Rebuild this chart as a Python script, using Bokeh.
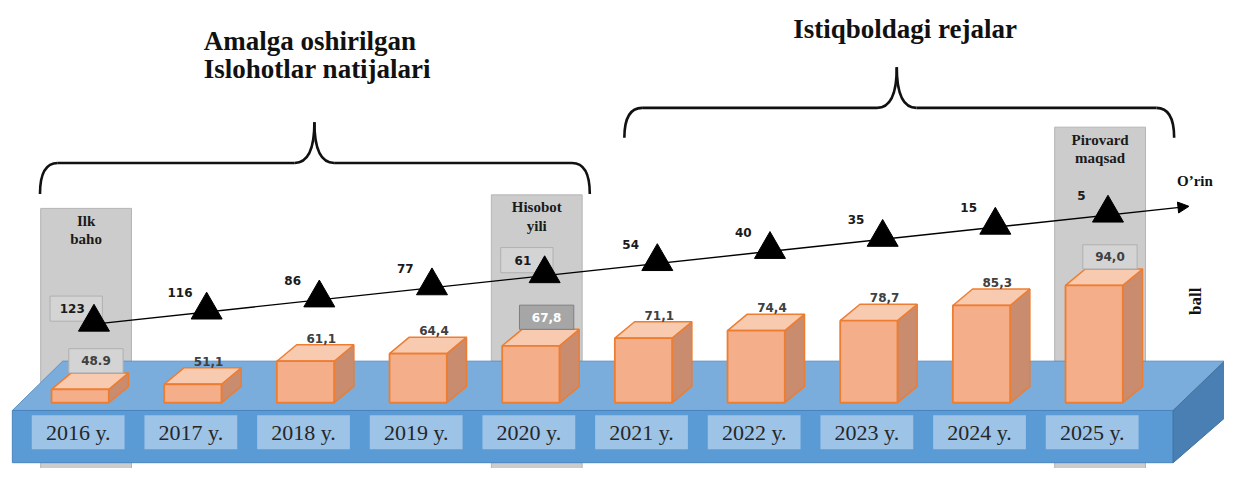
import numpy as np
from bokeh.plotting import figure
from bokeh.models import Range1d, Arrow, NormalHead
from bokeh.embed import file_html
from bokeh.resources import INLINE
from bokeh.core.properties import value

# ---------------- data ----------------
years = ["2016 y.", "2017 y.", "2018 y.", "2019 y.", "2020 y.",
         "2021 y.", "2022 y.", "2023 y.", "2024 y.", "2025 y."]
scores = [48.9, 51.1, 61.1, 64.4, 67.8, 71.1, 74.4, 78.7, 85.3, 94.0]
score_labels = ["48.9", "51,1", "61,1", "64,4", "67,8", "71,1", "74,4", "78,7", "85,3", "94,0"]
ranks = [123, 116, 86, 77, 61, 54, 40, 35, 15, 5]
milestone_idx = [0, 4, 9]
milestone_titles = [["Ilk", "baho"], ["Hisobot", "yili"], ["Pirovard", "maqsad"]]
left_title = ["Amalga oshirilgan", "Islohotlar natijalari"]
right_title = "Istiqboldagi rejalar"
rank_title = "O\u2019rin"
score_title = "ball"

# ---------------- layout helpers (reference pixel -> data) ----------------
PX0, STEP = 74.7, 114.14
PY_REF, V_REF, PPU = 352.6, 69.68, 2.383


def xd(px):
    return (px - PX0) / STEP


def yd(py):
    return V_REF + (PY_REF - py) / PPU


def wx(px):
    return px / STEP


def hy(py):
    return py / PPU


SERIF = value("Liberation Serif")
SANS = value("DejaVu Sans")

p = figure(width=1224, height=468,
           x_range=Range1d(xd(0), xd(1240)), y_range=Range1d(yd(484), yd(0)),
           toolbar_location=None, output_backend="svg",
           x_axis_type=None, y_axis_type=None, min_border=0,
           outline_line_color=None, background_fill_color="white",
           border_fill_color="white")

idx = np.arange(len(scores))

# ---------------- milestone grey columns ----------------
col_top_px = [215, 201, 131]
for k, i in enumerate(milestone_idx):
    cx = i + wx(12)
    p.quad(left=cx - wx(46), right=cx + wx(46), top=yd(col_top_px[k]), bottom=yd(495),
           fill_color="#cccccc", line_color="#b5b5b5", line_width=1)
    p.text(x=[cx, cx], y=[yd(col_top_px[k] + 13), yd(col_top_px[k] + 32)],
           text=milestone_titles[k], text_font=SERIF, text_font_style="bold",
           text_font_size="15px", text_align="center", text_baseline="middle",
           text_color="#1a1a1a")

# ---------------- braces and section titles ----------------
def brace(x_left, x_right, x_peak, y_h, y_end, y_peak, r=18):
    kw = dict(line_color="#111111", line_width=2.6)
    p.quadratic(x0=[xd(x_left)], y0=[yd(y_end)], x1=[xd(x_left + r)], y1=[yd(y_h)],
                cx=[xd(x_left)], cy=[yd(y_h)], **kw)
    p.segment(x0=[xd(x_left + r)], y0=[yd(y_h)], x1=[xd(x_peak - 20)], y1=[yd(y_h)], **kw)
    p.quadratic(x0=[xd(x_peak - 20)], y0=[yd(y_h)], x1=[xd(x_peak)], y1=[yd(y_peak)],
                cx=[xd(x_peak)], cy=[yd(y_h)], **kw)
    p.quadratic(x0=[xd(x_peak)], y0=[yd(y_peak)], x1=[xd(x_peak + 20)], y1=[yd(y_h)],
                cx=[xd(x_peak)], cy=[yd(y_h)], **kw)
    p.segment(x0=[xd(x_peak + 20)], y0=[yd(y_h)], x1=[xd(x_right - r)], y1=[yd(y_h)], **kw)
    p.quadratic(x0=[xd(x_right - r)], y0=[yd(y_h)], x1=[xd(x_right)], y1=[yd(y_end)],
                cx=[xd(x_right)], cy=[yd(y_h)], **kw)


brace(40, 597, 318, 168, 200, 126)
brace(632, 1189, 908, 111, 142, 69)

p.text(x=[xd(206), xd(206)], y=[yd(42), yd(71)], text=left_title, text_font=SERIF,
       text_font_style="bold", text_font_size="27px", text_align="left",
       text_baseline="middle", text_color="#111111")
p.text(x=[xd(803)], y=[yd(29)], text=[right_title], text_font=SERIF,
       text_font_style="bold", text_font_size="27px", text_align="left",
       text_baseline="middle", text_color="#111111")

# ---------------- platform ----------------
p.patch(x=[xd(12), xd(63), xd(1250), xd(1188)], y=[yd(424), yd(373), yd(373), yd(424)],
        fill_color="#7aaddc", line_color="#5d8fc4", line_width=1)
p.quad(left=xd(12), right=xd(1188), top=yd(424), bottom=yd(478),
       fill_color="#5b9bd5", line_color="#4a84bf", line_width=1)
p.patch(x=[xd(1188), xd(1250), xd(1250), xd(1188)], y=[yd(424), yd(363), yd(423), yd(478)],
        fill_color="#4a7fb3", line_color="#41719c", line_width=1)

# year boxes and labels
p.rect(x=idx + wx(4), y=yd(446.5), width=wx(94), height=hy(35),
       fill_color="#9dc3e6", line_color=None)
p.text(x=idx + wx(4), y=yd(447), text=years, text_font=SERIF, text_font_size="22px",
       text_align="center", text_baseline="middle", text_color="#262626")

# ---------------- rank line with triangles ----------------
def line_py(px):
    return 333 - 0.1098 * (px - 110)


tri_px = PX0 + STEP * idx + 20
tx = idx + wx(20)
ty = np.array([yd(line_py(v) - 2) for v in tri_px])

rank_box_idx = [0, 4]
for i in rank_box_idx:
    lx = tx[i] - wx(22)
    ly = ty[i] + hy(14)
    p.rect(x=lx + wx(4), y=ly, width=wx(53), height=hy(26),
           fill_color="#d4d4d4", line_color="#b0b0b0", line_width=1)

p.add_layout(Arrow(end=NormalHead(size=11, fill_color="black", line_color="black"),
                   x_start=xd(88), y_start=yd(line_py(88)), x_end=xd(1204),
                   y_end=yd(line_py(1204)), line_color="black", line_width=1.4))

p.scatter(x=tx, y=ty, marker="triangle", size=31, fill_color="black", line_color="black")

rank_x = [tx[i] - (wx(22) if i in rank_box_idx else wx(27)) for i in idx]
rank_y = [ty[i] + (hy(14) if i in rank_box_idx else hy(18)) for i in idx]
p.text(x=rank_x, y=rank_y, text=[str(r) for r in ranks], text_font=SANS,
       text_font_style="bold", text_font_size="12px", text_align="center",
       text_baseline="middle", text_color="#1a1a1a")

p.text(x=[xd(1210)], y=[yd(187)], text=[rank_title], text_font=SERIF,
       text_font_style="bold", text_font_size="15px", text_align="center",
       text_baseline="middle", text_color="#111111")
p.text(x=[xd(1211)], y=[yd(311)], text=[score_title], text_font=SERIF,
       text_font_style="bold", text_font_size="17px", text_align="center",
       text_baseline="middle", angle=np.pi / 2, text_color="#111111")

# ---------------- 3D bars ----------------
base = yd(416)
W = wx(58) / 2
DX = wx(20)
DY = hy(17)
sc = np.array(scores)
bx = idx + wx(6)

side_xs = [[i + W, i + W + DX, i + W + DX, i + W] for i in bx]
side_ys = [[v, v + DY, base + DY, base] for v in sc]
p.patches(xs=side_xs, ys=side_ys, fill_color="#c98c6e", line_color="#ed7d31", line_width=1.5)

top_xs = [[i - W, i + W, i + W + DX, i - W + DX] for i in bx]
top_ys = [[v, v, v + DY, v + DY] for v in sc]
p.patches(xs=top_xs, ys=top_ys, fill_color="#f8cbb0", line_color="#ed7d31", line_width=1.5)

p.quad(left=bx - W, right=bx + W, bottom=base, top=sc,
       fill_color="#f4af8a", line_color="#ed7d31", line_width=1.8)

# ---------------- score labels ----------------
score_box_idx = [0, 4, 9]
dark_box_idx = [4]
for i in score_box_idx:
    dark = i in dark_box_idx
    p.quad(left=bx[i] + wx(16) - wx(27.5), right=bx[i] + wx(16) + wx(27.5),
           bottom=sc[i] + DY, top=sc[i] + DY + hy(25),
           fill_color="#a6a6a6" if dark else "#d4d4d4",
           line_color="#7f7f7f" if dark else "#b0b0b0", line_width=1)

plain = [i for i in idx if i not in score_box_idx]
p.text(x=[bx[i] + wx(16) for i in plain], y=[sc[i] + DY + hy(2) for i in plain],
       text=[score_labels[i] for i in plain], text_font=SANS, text_font_style="bold",
       text_font_size="12px", text_align="center", text_baseline="bottom",
       text_color="#404040")
p.text(x=[bx[i] + wx(16) for i in score_box_idx], y=[sc[i] + DY + hy(12.5) for i in score_box_idx],
       text=[score_labels[i] for i in score_box_idx], text_font=SANS, text_font_style="bold",
       text_font_size="12px", text_align="center", text_baseline="middle",
       text_color=["white" if i in dark_box_idx else "#404040" for i in score_box_idx])

open("out.html", "w").write(file_html(p, INLINE))
